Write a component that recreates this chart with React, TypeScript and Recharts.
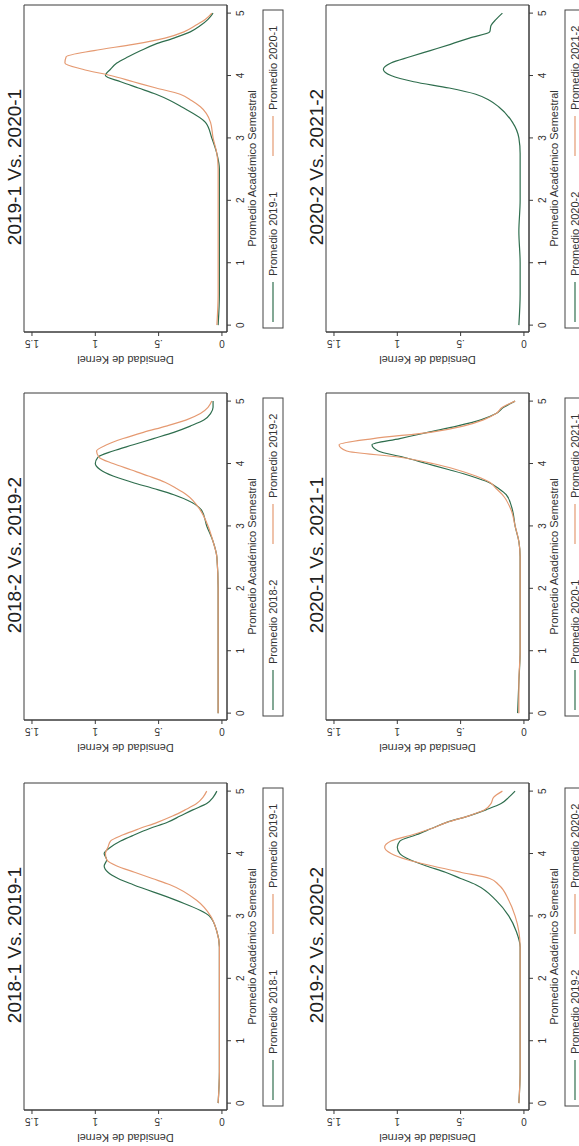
import React from "react";
import { LineChart, Line, XAxis, YAxis, ReferenceArea } from "recharts";

// Score grid (Promedio Académico Semestral)
const SCORES = [0, 0.5, 1, 1.5, 2, 2.5, 2.75, 3, 3.25, 3.5, 3.6, 3.7, 3.8, 3.9, 4, 4.1, 4.2, 4.3, 4.4, 4.5, 4.6, 4.7, 4.8, 4.9, 5];
const X_TICKS = [0, 1, 2, 3, 4, 5];
const Y_TICKS = [0, 0.5, 1, 1.5];
const Y_TICK_LABELS = ["0", ".5", "1", "1.5"];

// Kernel densities per panel
const P1_2019_1 = [0.03, 0.02, 0.02, 0.02, 0.02, 0.02, 0.04, 0.08, 0.13, 0.32, 0.41, 0.52, 0.66, 0.8, 0.92, 0.88, 0.83, 0.74, 0.64, 0.53, 0.38, 0.25, 0.17, 0.11, 0.07];
const P1_2020_1 = [0.04, 0.03, 0.03, 0.03, 0.03, 0.03, 0.04, 0.07, 0.09, 0.17, 0.24, 0.33, 0.52, 0.7, 0.88, 1.1, 1.24, 1.23, 1.01, 0.7, 0.45, 0.3, 0.21, 0.13, 0.08];
const P2_2020_2 = [0.04, 0.03, 0.03, 0.04, 0.03, 0.03, 0.03, 0.04, 0.09, 0.2, 0.27, 0.38, 0.59, 0.87, 1.05, 1.11, 1.05, 0.9, 0.74, 0.58, 0.43, 0.27, 0.26, 0.22, 0.17];
const P2_2021_2: (number | null)[] = [];
const P3_2018_2 = [0.03, 0.03, 0.03, 0.03, 0.03, 0.04, 0.07, 0.12, 0.16, 0.38, 0.54, 0.71, 0.86, 0.96, 1.0, 0.98, 0.86, 0.7, 0.54, 0.38, 0.25, 0.14, 0.09, 0.07, 0.07];
const P3_2019_2 = [0.03, 0.03, 0.03, 0.03, 0.03, 0.04, 0.07, 0.11, 0.17, 0.28, 0.36, 0.45, 0.58, 0.72, 0.86, 0.97, 0.99, 0.91, 0.78, 0.62, 0.44, 0.28, 0.17, 0.11, 0.08];
const P4_2020_1 = [0.05, 0.04, 0.03, 0.03, 0.03, 0.03, 0.04, 0.07, 0.09, 0.14, 0.2, 0.28, 0.42, 0.59, 0.77, 0.95, 1.15, 1.2, 0.98, 0.76, 0.53, 0.34, 0.22, 0.16, 0.07];
const P4_2021_1 = [0.04, 0.04, 0.03, 0.03, 0.03, 0.03, 0.04, 0.07, 0.1, 0.17, 0.22, 0.27, 0.38, 0.53, 0.72, 0.98, 1.4, 1.46, 1.19, 0.74, 0.48, 0.32, 0.22, 0.17, 0.07];
const P5_2018_1 = [0.03, 0.02, 0.02, 0.02, 0.02, 0.02, 0.04, 0.1, 0.36, 0.7, 0.82, 0.9, 0.93, 0.91, 0.93, 0.88, 0.8, 0.69, 0.57, 0.43, 0.33, 0.23, 0.12, 0.07, 0.04];
const P5_2019_1 = [0.03, 0.02, 0.02, 0.02, 0.02, 0.02, 0.04, 0.09, 0.2, 0.41, 0.55, 0.69, 0.83, 0.91, 0.92, 0.9, 0.88, 0.78, 0.65, 0.51, 0.39, 0.29, 0.2, 0.15, 0.12];
const P6_2019_2 = [0.04, 0.03, 0.03, 0.03, 0.03, 0.03, 0.06, 0.12, 0.22, 0.38, 0.5, 0.62, 0.77, 0.9, 0.98, 1.0, 0.98, 0.85, 0.73, 0.61, 0.44, 0.3, 0.18, 0.12, 0.07];
const P6_2020_2 = [0.04, 0.03, 0.03, 0.03, 0.03, 0.03, 0.04, 0.07, 0.12, 0.2, 0.27, 0.5, 0.72, 0.92, 1.05, 1.1, 1.05, 0.88, 0.73, 0.61, 0.44, 0.31, 0.26, 0.24, 0.17];

const TITLES = ["2019-1 Vs. 2020-1", "2020-2 Vs. 2021-2", "2018-2 Vs. 2019-2", "2020-1 Vs. 2021-1", "2018-1 Vs. 2019-1", "2019-2 Vs. 2020-2"];
const NAMES_A = ["Promedio 2019-1", "Promedio 2020-2", "Promedio 2018-2", "Promedio 2020-1", "Promedio 2018-1", "Promedio 2019-2"];
const NAMES_B = ["Promedio 2020-1", "Promedio 2021-2", "Promedio 2019-2", "Promedio 2021-1", "Promedio 2019-1", "Promedio 2020-2"];
const SERIES_A = [P1_2019_1, P2_2020_2, P3_2018_2, P4_2020_1, P5_2018_1, P6_2019_2];
const SERIES_B = [P1_2020_1, P2_2021_2, P3_2019_2, P4_2021_1, P5_2019_1, P6_2020_2];

// layout (image positions of each rotated panel)
const PANEL_LEFT = [0, 302, 0, 302, 0, 302];
const PANEL_TOP = [0, 0, 388, 388, 778, 778];

const FONT = '"Liberation Sans", Arial, Helvetica, sans-serif';
const GREEN = "#2f6e4e";
const ORANGE = "#e59a72";
const AXIS = "#3a3a3a";
const TEXT = "#333333";
const W = 380;
const H = 290;
const X_DOMAIN: [number, number] = [-0.11, 5.13];
const Y_DOMAIN: [number, number] = [-0.04, 1.563];

const XTick = (props: any) => {
  const { x, y, payload } = props;
  return (
    <text x={x} y={y} dy="0.71em" textAnchor="middle" fontSize={10} fill={TEXT} fontFamily={FONT}>
      {String(payload.value)}
    </text>
  );
};

const YTick = (props: any) => {
  const { x, y, payload } = props;
  const idx = Y_TICKS.indexOf(payload.value);
  return (
    <text x={x} y={y} transform={`rotate(-90 ${x} ${y})`} textAnchor="middle" fontSize={10} fill={TEXT} fontFamily={FONT}>
      {idx >= 0 ? Y_TICK_LABELS[idx] : String(payload.value)}
    </text>
  );
};

const XLabel = (props: any) => {
  const vb = props.viewBox || {};
  return (
    <text x={vb.x + vb.width / 2} y={vb.y + 29} textAnchor="middle" fontSize={11} fill={TEXT} fontFamily={FONT}>
      Promedio Académico Semestral
    </text>
  );
};

const YLabel = (props: any) => {
  const vb = props.viewBox || {};
  const cx = vb.x + 4;
  const cy = vb.y + vb.height / 2;
  return (
    <text x={cx} y={cy} transform={`rotate(-90 ${cx} ${cy})`} textAnchor="middle" fontSize={11} fill={TEXT} fontFamily={FONT}>
      Densidad de Kernel
    </text>
  );
};

function Panel({ i }: { i: number }) {
  const a = SERIES_A[i];
  const b = SERIES_B[i];
  const data = SCORES.map((x, k) => ({
    x,
    a: k < a.length ? a[k] : null,
    b: k < b.length ? b[k] : null,
  }));
  return (
    <div style={{ position: "absolute", left: PANEL_LEFT[i], top: PANEL_TOP[i], width: H, height: W }}>
      <div
        style={{
          position: "absolute",
          left: 0,
          top: 0,
          width: W,
          height: H,
          transformOrigin: "0 0",
          transform: `translate(0px, ${W}px) rotate(-90deg)`,
          background: "#fff",
        }}
      >
        <LineChart width={W} height={H} data={data} margin={{ top: 24, right: 5, bottom: 33, left: 20 }}>
          <ReferenceArea x1={X_DOMAIN[0]} x2={X_DOMAIN[1]} y1={Y_DOMAIN[0]} y2={Y_DOMAIN[1]} fill="none" fillOpacity={0} stroke={AXIS} strokeWidth={1} ifOverflow="visible" />
          <XAxis
            type="number"
            dataKey="x"
            domain={X_DOMAIN}
            ticks={X_TICKS}
            allowDataOverflow
            interval={0}
            height={30}
            tickSize={4}
            tickMargin={6}
            stroke={AXIS}
            tick={<XTick />}
            label={<XLabel />}
          />
          <YAxis
            type="number"
            domain={Y_DOMAIN}
            ticks={Y_TICKS}
            allowDataOverflow
            interval={0}
            width={28}
            tickSize={4}
            tickMargin={4}
            stroke={AXIS}
            tick={<YTick />}
            label={<YLabel />}
          />
          <Line type="monotone" dataKey="a" name={NAMES_A[i]} stroke={GREEN} strokeWidth={1.2} dot={false} isAnimationActive={false} connectNulls={false} />
          <Line type="monotone" dataKey="b" name={NAMES_B[i]} stroke={ORANGE} strokeWidth={1.2} dot={false} isAnimationActive={false} connectNulls={false} />
        </LineChart>
        <svg width={W} height={H} style={{ position: "absolute", left: 0, top: 0, pointerEvents: "none" }}>
          <text x={213} y={21} textAnchor="middle" fontSize={19} fill="#222" fontFamily={FONT}>
            {TITLES[i]}
          </text>
          <rect x={52} y={263} width={318} height={20} fill="none" stroke="#444" strokeWidth={1} />
          <line x1={58} x2={98} y1={273} y2={273} stroke={GREEN} strokeWidth={1.2} />
          <text x={104} y={277} fontSize={11} fill={TEXT} fontFamily={FONT}>
            {NAMES_A[i]}
          </text>
          <line x1={224} x2={264} y1={273} y2={273} stroke={ORANGE} strokeWidth={1.2} />
          <text x={270} y={277} fontSize={11} fill={TEXT} fontFamily={FONT}>
            {NAMES_B[i]}
          </text>
        </svg>
      </div>
    </div>
  );
}

export default function App() {
  return (
    <div style={{ position: "absolute", left: 0, top: 0, width: 579, height: 1146, overflow: "hidden", background: "#fff", fontFamily: FONT }}>
      {TITLES.map((_, i) => (
        <Panel key={i} i={i} />
      ))}
    </div>
  );
}
